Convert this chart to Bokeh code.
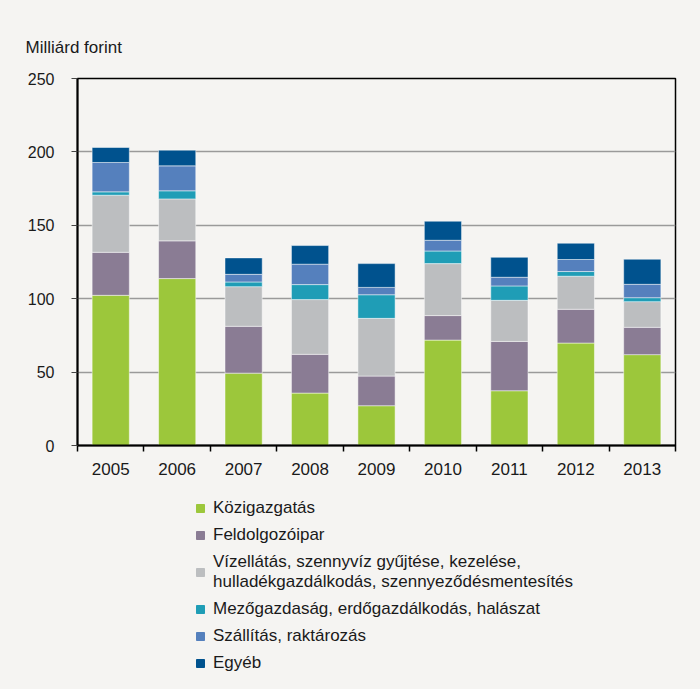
from bokeh.plotting import figure
from bokeh.models import (ColumnDataSource, Range1d, FixedTicker, Legend, LegendItem, Title)
from bokeh.layouts import column
from bokeh.embed import file_html
from bokeh.resources import INLINE

years = ["2005", "2006", "2007", "2008", "2009", "2010", "2011", "2012", "2013"]
kozigazgatas = [102.3, 113.7, 49.3, 35.7, 27.1, 71.8, 37.3, 69.8, 61.9]
feldolgozoipar = [29.3, 25.7, 31.9, 26.4, 20.2, 16.7, 33.6, 23.0, 18.6]
vizellatas = [38.9, 28.6, 27.0, 37.3, 39.3, 35.4, 28.0, 22.5, 17.5]
mezogazdasag = [2.3, 5.5, 3.2, 10.2, 16.1, 8.6, 9.8, 3.2, 2.7]
szallitas = [20.0, 17.0, 5.2, 13.9, 5.0, 7.3, 5.9, 8.2, 9.1]
egyeb = [10.2, 10.7, 11.2, 12.7, 16.2, 13.0, 13.6, 11.1, 17.1]

series_names = ["Közigazgatás", "Feldolgozóipar",
                "Vízellátás, szennyvíz gyűjtése, kezelése,\nhulladékgazdálkodás, szennyeződésmentesítés",
                "Mezőgazdaság, erdőgazdálkodás, halászat", "Szállítás, raktározás", "Egyéb"]
colors = ["#9cc73b", "#8a7c94", "#bcbec0", "#1f9db6", "#5580bd", "#00528e"]
y_ticks = [0, 50, 100, 150, 200, 250]

keys = ["k", "f", "v", "m", "s", "e"]
x_pos = [i + 0.5 for i in range(len(years))]
src = ColumnDataSource(dict(x=x_pos, k=kozigazgatas, f=feldolgozoipar, v=vizellatas,
                            m=mezogazdasag, s=szallitas, e=egyeb))

BG = "#f5f4f2"
FONT = "Liberation Sans"
W = 684
H_MAIN = 482
H_LEG = 191

p = figure(width=W, height=H_MAIN, output_backend="svg", toolbar_location=None,
           x_range=Range1d(0, len(years)), y_range=Range1d(0, 250),
           min_border_left=77, min_border_right=9, min_border_top=78, min_border_bottom=37,
           background_fill_color=BG, border_fill_color=BG)
p.outline_line_color = "black"
p.outline_line_width = 1.5

p.vbar_stack(keys, x="x", width=0.56, color=colors, source=src,
             line_color="white", line_width=0.8, line_alpha=0.6)

# axes
xa = p.xaxis[0]
xa.ticker = FixedTicker(ticks=x_pos, minor_ticks=list(range(len(years) + 1)))
xa.major_label_overrides = {x: y for x, y in zip(x_pos, years)}
xa.major_tick_out = 0
xa.major_tick_in = 0
xa.minor_tick_out = 6
xa.minor_tick_in = 0
xa.minor_tick_line_color = "black"
xa.minor_tick_line_width = 1.5
xa.axis_line_color = "black"
xa.axis_line_width = 2
xa.major_label_text_font = FONT
xa.major_label_text_font_size = "17px"
xa.major_label_text_color = "#1a1a1a"
xa.major_label_standoff = 11

ya = p.yaxis[0]
ya.ticker = FixedTicker(ticks=y_ticks)
ya.major_tick_out = 6
ya.major_tick_in = 0
ya.major_tick_line_color = "#444444"
ya.major_tick_line_width = 1.2
ya.minor_tick_line_color = None
ya.axis_line_color = "black"
ya.axis_line_width = 2
ya.major_label_text_font = FONT
ya.major_label_text_font_size = "16px"
ya.major_label_text_color = "#1a1a1a"
ya.major_label_standoff = 17

p.xgrid.grid_line_color = None
p.ygrid.grid_line_color = "#9a9a9a"
p.ygrid.grid_line_width = 1.5

p.add_layout(Title(text="Milliárd forint", align="left", offset=-52, standoff=44,
                   text_font=FONT, text_font_size="17px", text_color="#1a1a1a",
                   text_font_style="normal"), "above")

# legend panel (separate figure so the legend is not clipped by the chart frame);
# its bars use the same data but lie outside its visible range
lf = figure(width=W, height=H_LEG, output_backend="svg", toolbar_location=None,
            x_range=Range1d(0, len(years)), y_range=Range1d(1000, 1001),
            min_border_left=0, min_border_right=0, min_border_top=0, min_border_bottom=0,
            background_fill_color=BG, border_fill_color=BG)
lf.axis.visible = False
lf.grid.grid_line_color = None
lf.outline_line_color = None
leg_renderers = lf.vbar_stack(keys, x="x", width=0.56, color=colors, source=src)

items = [LegendItem(label=n, renderers=[r]) for n, r in zip(series_names, leg_renderers)]
legend = Legend(items=items, location=(118, 0), orientation="vertical",
                background_fill_alpha=0, border_line_color=None,
                padding=0, margin=0, spacing=7,
                glyph_width=10, glyph_height=10, label_standoff=8,
                label_text_font=FONT, label_text_font_size="17px",
                label_text_line_height=1.43,
                label_text_color="#1a1a1a", label_height=20)
lf.add_layout(legend)

layout = column(p, lf, spacing=0)
html = file_html(layout, INLINE)
html = html.replace("<body>", '<body style="background:%s">' % BG)
open("out.html", "w").write(html)
